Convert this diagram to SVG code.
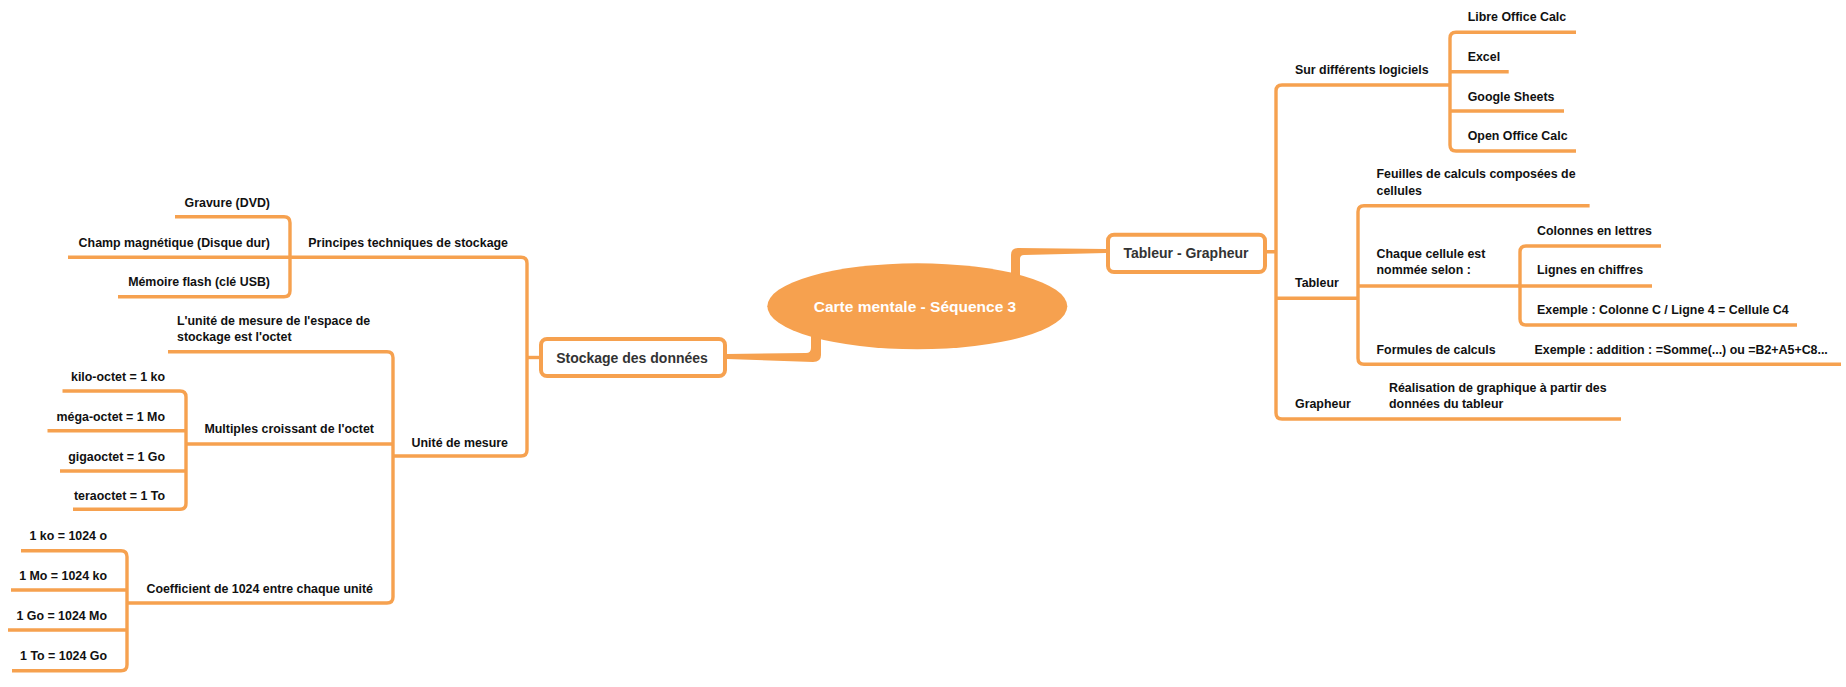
<svg xmlns="http://www.w3.org/2000/svg" width="1846" height="687" viewBox="0 0 1846 687">
<style>
.c{fill:none;stroke:#F6A14F;stroke-width:3.4;stroke-linecap:butt;stroke-linejoin:round}
.t{font-family:"Liberation Sans",Arial,sans-serif;font-weight:bold;font-size:12.4px;fill:#111}
.e{text-anchor:end}
.box{fill:#fff;stroke:#F6A14F;stroke-width:4}
.bt{font-family:"Liberation Sans",Arial,sans-serif;font-weight:bold;font-size:14px;fill:#333;text-anchor:middle}
.ct{font-family:"Liberation Sans",Arial,sans-serif;font-weight:bold;font-size:15.5px;fill:#fff;text-anchor:middle}
</style>
<rect width="1846" height="687" fill="#fff"/>
<g id="connectors">
<path fill="#F6A14F" d="M727,354 L806,353 Q811,353 811,348 L811,330 L821,330 L821,355 Q821,362 813,362 L727,359 Z"/>
<path fill="#F6A14F" d="M1106,249 L1018,248 Q1011,248 1011,255 L1011,280 L1020,280 L1020,259 Q1020,255 1024,255 L1106,253 Z"/>
<path class="c" d="M175,216.7 H284 Q290,216.7 290,222.7 V290.7 Q290,296.7 284,296.7 H118"/>
<path class="c" d="M68,257.3 H521 Q527,257.3 527,263.3 V450 Q527,456 521,456 H393"/>
<path class="c" d="M527,357.5 H539"/>
<path class="c" d="M168,351.7 H387 Q393,351.7 393,357.7 V597 Q393,603 387,603 H127"/>
<path class="c" d="M186,444 H393"/>
<path class="c" d="M62.5,391 H180 Q186,391 186,397 V503.3 Q186,509.3 180,509.3 H73"/>
<path class="c" d="M47.5,430.7 H186 M60,471 H186"/>
<path class="c" d="M21,550.7 H121 Q127,550.7 127,556.7 V664.7 Q127,670.7 121,670.7 H12"/>
<path class="c" d="M11,590 H127 M8,630 H127"/>
<path class="c" d="M1450,85 H1282 Q1276,85 1276,91 V413 Q1276,419 1282,419 H1621"/>
<path class="c" d="M1267,251.7 H1276 M1276,298.3 H1358"/>
<path class="c" d="M1576,32.3 H1456 Q1450,32.3 1450,38.3 V145 Q1450,151 1456,151 H1576"/>
<path class="c" d="M1450,71.7 H1508.7 M1450,111 H1564"/>
<path class="c" d="M1589.6,205.7 H1364 Q1358,205.7 1358,211.7 V358.3 Q1358,364.3 1364,364.3 H1841"/>
<path class="c" d="M1358,286 H1520"/>
<path class="c" d="M1661,246 H1526 Q1520,246 1520,252 V319 Q1520,325 1526,325 H1797"/>
<path class="c" d="M1520,286 H1652"/>
</g>
<g id="center">
<ellipse cx="917.3" cy="306.3" rx="150" ry="43" fill="#F6A14F"/>
<text class="ct" x="915" y="311.5">Carte mentale - Séquence 3</text>
</g>
<g id="stockage">
<rect class="box" x="541" y="339" width="184" height="37" rx="6"/>
<text class="bt" x="632" y="362.5">Stockage des données</text>
</g>
<g id="tableur-grapheur">
<rect class="box" x="1108" y="234.7" width="157" height="37.3" rx="6"/>
<text class="bt" x="1186" y="258">Tableur - Grapheur</text>
</g>
<g id="principes"><text class="t e" x="508" y="246.7">Principes techniques de stockage</text></g>
<g id="gravure"><text class="t e" x="270" y="207">Gravure (DVD)</text></g>
<g id="champ"><text class="t e" x="270" y="246.7">Champ magnétique (Disque dur)</text></g>
<g id="memoire"><text class="t e" x="270" y="286">Mémoire flash (clé USB)</text></g>
<g id="unite"><text class="t e" x="508" y="446.7">Unité de mesure</text></g>
<g id="unite-octet"><text class="t" x="177" y="324.5">L'unité de mesure de l'espace de</text><text class="t" x="177" y="341">stockage est l'octet</text></g>
<g id="multiples"><text class="t e" x="374" y="433.3">Multiples croissant de l'octet</text></g>
<g id="kilo"><text class="t e" x="165" y="380.7">kilo-octet = 1 ko</text></g>
<g id="mega"><text class="t e" x="165" y="421">méga-octet = 1 Mo</text></g>
<g id="giga"><text class="t e" x="165" y="460.5">gigaoctet = 1 Go</text></g>
<g id="tera"><text class="t e" x="165" y="499.5">teraoctet = 1 To</text></g>
<g id="coefficient"><text class="t e" x="373" y="592.7">Coefficient de 1024 entre chaque unité</text></g>
<g id="ko"><text class="t e" x="107" y="540">1 ko = 1024 o</text></g>
<g id="mo"><text class="t e" x="107" y="579.5">1 Mo = 1024 ko</text></g>
<g id="go"><text class="t e" x="107" y="619.5">1 Go = 1024 Mo</text></g>
<g id="to"><text class="t e" x="107" y="659.5">1 To = 1024 Go</text></g>
<g id="logiciels"><text class="t" x="1295" y="74">Sur différents logiciels</text></g>
<g id="libre"><text class="t" x="1467.7" y="20.7">Libre Office Calc</text></g>
<g id="excel"><text class="t" x="1467.7" y="61">Excel</text></g>
<g id="google"><text class="t" x="1467.7" y="100.7">Google Sheets</text></g>
<g id="open"><text class="t" x="1467.7" y="140">Open Office Calc</text></g>
<g id="tableur"><text class="t" x="1295" y="287">Tableur</text></g>
<g id="feuilles"><text class="t" x="1376.5" y="178.3">Feuilles de calculs composées de</text><text class="t" x="1376.5" y="194.7">cellules</text></g>
<g id="chaque"><text class="t" x="1376.5" y="257.7">Chaque cellule est</text><text class="t" x="1376.5" y="274.3">nommée selon :</text></g>
<g id="colonnes"><text class="t" x="1537" y="235">Colonnes en lettres</text></g>
<g id="lignes"><text class="t" x="1537" y="274.3">Lignes en chiffres</text></g>
<g id="exemple-c4"><text class="t" x="1537" y="314.3">Exemple : Colonne C / Ligne 4 = Cellule C4</text></g>
<g id="formules"><text class="t" x="1376.5" y="354.3">Formules de calculs</text></g>
<g id="exemple-addition"><text class="t" x="1534.5" y="354.3">Exemple : addition : =Somme(...) ou =B2+A5+C8...</text></g>
<g id="grapheur"><text class="t" x="1295" y="408.3">Grapheur</text></g>
<g id="realisation"><text class="t" x="1389" y="391.7">Réalisation de graphique à partir des</text><text class="t" x="1389" y="408.3">données du tableur</text></g>
</svg>
